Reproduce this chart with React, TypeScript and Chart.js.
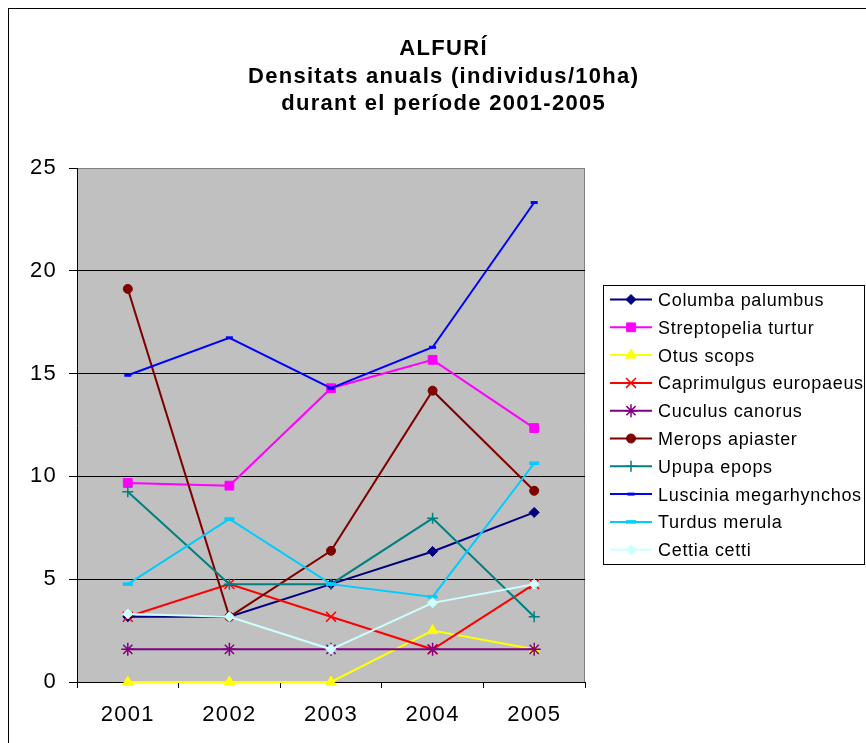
import React, { useEffect, useRef } from 'react';
import { Chart, registerables } from 'chart.js';
import { drawPoint } from 'chart.js/helpers';

Chart.register(...registerables);

const years = ['2001', '2002', '2003', '2004', '2005'];
const yTicks = [0, 5, 10, 15, 20, 25];

const columbaPalumbus = [3.17, 3.17, 4.76, 6.35, 8.25];
const streptopeliaTurtur = [9.68, 9.55, 14.29, 15.67, 12.35];
const otusScops = [0, 0, 0, 2.5, 1.59];
const caprimulgusEuropaeus = [3.17, 4.76, 3.17, 1.59, 4.76];
const cuculusCanorus = [1.59, 1.59, 1.59, 1.59, 1.59];
const meropsApiaster = [19.12, 3.17, 6.38, 14.17, 9.3];
const upupaEpops = [9.25, 4.76, 4.76, 7.96, 3.17];
const lusciniaMegarhynchos = [14.92, 16.74, 14.29, 16.28, 23.32];
const turdusMerula = [4.76, 7.93, 4.76, 4.14, 10.64];
const cettiaCetti = [3.31, 3.17, 1.59, 3.85, 4.75];

const titleLines = ['ALFURÍ', 'Densitats anuals (individus/10ha)', 'durant el període 2001-2005'];

const FONT = '"Liberation Sans", Arial, sans-serif';

const seriesDefs = [
  { name: 'Columba palumbus', data: columbaPalumbus, color: '#000080', style: 'rectRot', radius: 5, pbw: 1 },
  { name: 'Streptopelia turtur', data: streptopeliaTurtur, color: '#FF00FF', style: 'rect', radius: 6.2, pbw: 1 },
  { name: 'Otus scops', data: otusScops, color: '#FFFF00', style: 'triangle', radius: 6, pbw: 1 },
  { name: 'Caprimulgus europaeus', data: caprimulgusEuropaeus, color: '#FF0000', style: 'crossRot', radius: 7, pbw: 1.5 },
  { name: 'Cuculus canorus', data: cuculusCanorus, color: '#800080', style: 'star', radius: 6.5, pbw: 1.5 },
  { name: 'Merops apiaster', data: meropsApiaster, color: '#800000', style: 'circle', radius: 4.5, pbw: 1 },
  { name: 'Upupa epops', data: upupaEpops, color: '#008080', style: 'cross', radius: 5.5, pbw: 1.5 },
  { name: 'Luscinia megarhynchos', data: lusciniaMegarhynchos, color: '#0000FF', style: 'line', radius: 3.5, pbw: 3 },
  { name: 'Turdus merula', data: turdusMerula, color: '#00CCFF', style: 'line', radius: 5, pbw: 3.5 },
  { name: 'Cettia cetti', data: cettiaCetti, color: '#CCFFFF', style: 'rectRot', radius: 5, pbw: 1 },
];

export default function App() {
  const ref = useRef<HTMLCanvasElement>(null);

  useEffect(() => {
    if (!ref.current) return;

    const framePlugin = {
      id: 'frame',
      beforeDraw(chart: any) {
        const { ctx, chartArea } = chart;
        const { left, top, right, bottom } = chartArea;
        ctx.save();
        ctx.fillStyle = '#C0C0C0';
        ctx.fillRect(left, top, right - left, bottom - top);
        ctx.strokeStyle = '#808080';
        ctx.lineWidth = 1;
        ctx.beginPath();
        ctx.moveTo(left, top + 0.5);
        ctx.lineTo(right - 0.5, top + 0.5);
        ctx.lineTo(right - 0.5, bottom);
        ctx.stroke();
        ctx.restore();
        ctx.letterSpacing = '1.3px';
      },
      afterDraw(chart: any) {
        const { ctx } = chart;
        // Title
        ctx.save();
        ctx.letterSpacing = '1.3px';
        ctx.fillStyle = '#000';
        ctx.font = `bold 22px ${FONT}`;
        ctx.textAlign = 'center';
        ctx.textBaseline = 'alphabetic';
        const baselines = [46, 74, 101];
        titleLines.forEach((t, i) => ctx.fillText(t, 434.6, baselines[i]));
        ctx.restore();

        // Legend
        ctx.save();
        ctx.strokeStyle = '#000';
        ctx.lineWidth = 1;
        ctx.strokeRect(594.5, 276.5, 261, 279);
        ctx.font = `18px ${FONT}`;
        ctx.letterSpacing = '0.7px';
        ctx.textAlign = 'left';
        ctx.textBaseline = 'alphabetic';
        seriesDefs.forEach((s, i) => {
          const cy = 290.5 + i * 27.8;
          ctx.strokeStyle = s.color;
          ctx.lineWidth = 2;
          ctx.beginPath();
          ctx.moveTo(601, cy);
          ctx.lineTo(643, cy);
          ctx.stroke();
          ctx.fillStyle = s.color;
          ctx.strokeStyle = s.color;
          ctx.lineWidth = s.pbw;
          drawPoint(ctx, { pointStyle: s.style, radius: s.radius, borderWidth: s.pbw, rotation: 0 } as any, 622, cy);
          ctx.fillStyle = '#000';
          ctx.fillText(s.name, 649, 297 + i * 27.8);
        });
        ctx.restore();
      },
    };

    const chart = new Chart(ref.current, {
      type: 'line',
      data: {
        labels: years,
        datasets: seriesDefs.map((s, i) => ({
          label: s.name,
          data: s.data,
          borderColor: s.color,
          backgroundColor: s.color,
          pointBackgroundColor: s.color,
          pointBorderColor: s.color,
          pointStyle: s.style as any,
          pointRadius: s.radius,
          pointBorderWidth: s.pbw,
          borderWidth: 2,
          tension: 0,
          fill: false,
          order: -i,
          clip: false as any,
        })),
      },
      options: {
        responsive: false,
        animation: false,
        devicePixelRatio: 1,
        layout: { padding: { left: 8, right: 281, top: 159, bottom: 11 } },
        plugins: {
          legend: { display: false },
          title: { display: false },
          tooltip: { enabled: false },
        },
        scales: {
          x: {
            type: 'category',
            offset: true,
            afterFit: (scale: any) => { scale.height = 50; },
            grid: {
              display: true,
              drawOnChartArea: false,
              drawTicks: true,
              tickLength: 6,
              offset: true,
              color: '#000',
              tickColor: '#000',
              lineWidth: 1,
            },
            border: { display: true, color: '#000', width: 1 },
            ticks: {
              color: '#000',
              font: { family: FONT, size: 22 },
              padding: 14,
              maxRotation: 0,
              autoSkip: false,
            },
          },
          y: {
            min: 0,
            max: 25,
            afterFit: (scale: any) => { scale.width = 60; },
            afterBuildTicks: (scale: any) => { scale.ticks = yTicks.map((v) => ({ value: v })); },
            grid: {
              display: true,
              drawTicks: true,
              tickLength: 8,
              color: (c: any) => (c.tick && c.tick.value === 25 ? '#808080' : '#000'),
              tickColor: '#000',
              lineWidth: 1,
            },
            border: { display: true, color: '#000', width: 1 },
            ticks: {
              color: '#000',
              font: { family: FONT, size: 22 },
              padding: 12,
            },
          },
        },
      },
      plugins: [framePlugin],
    });

    return () => chart.destroy();
  }, []);

  return (
    <div
      style={{
        position: 'fixed',
        left: 8,
        top: 8,
        borderTop: '1px solid #000',
        borderLeft: '1px solid #000',
        width: 857,
        height: 734,
      }}
    >
      <canvas ref={ref} width={857} height={734} style={{ display: 'block' }} />
    </div>
  );
}
